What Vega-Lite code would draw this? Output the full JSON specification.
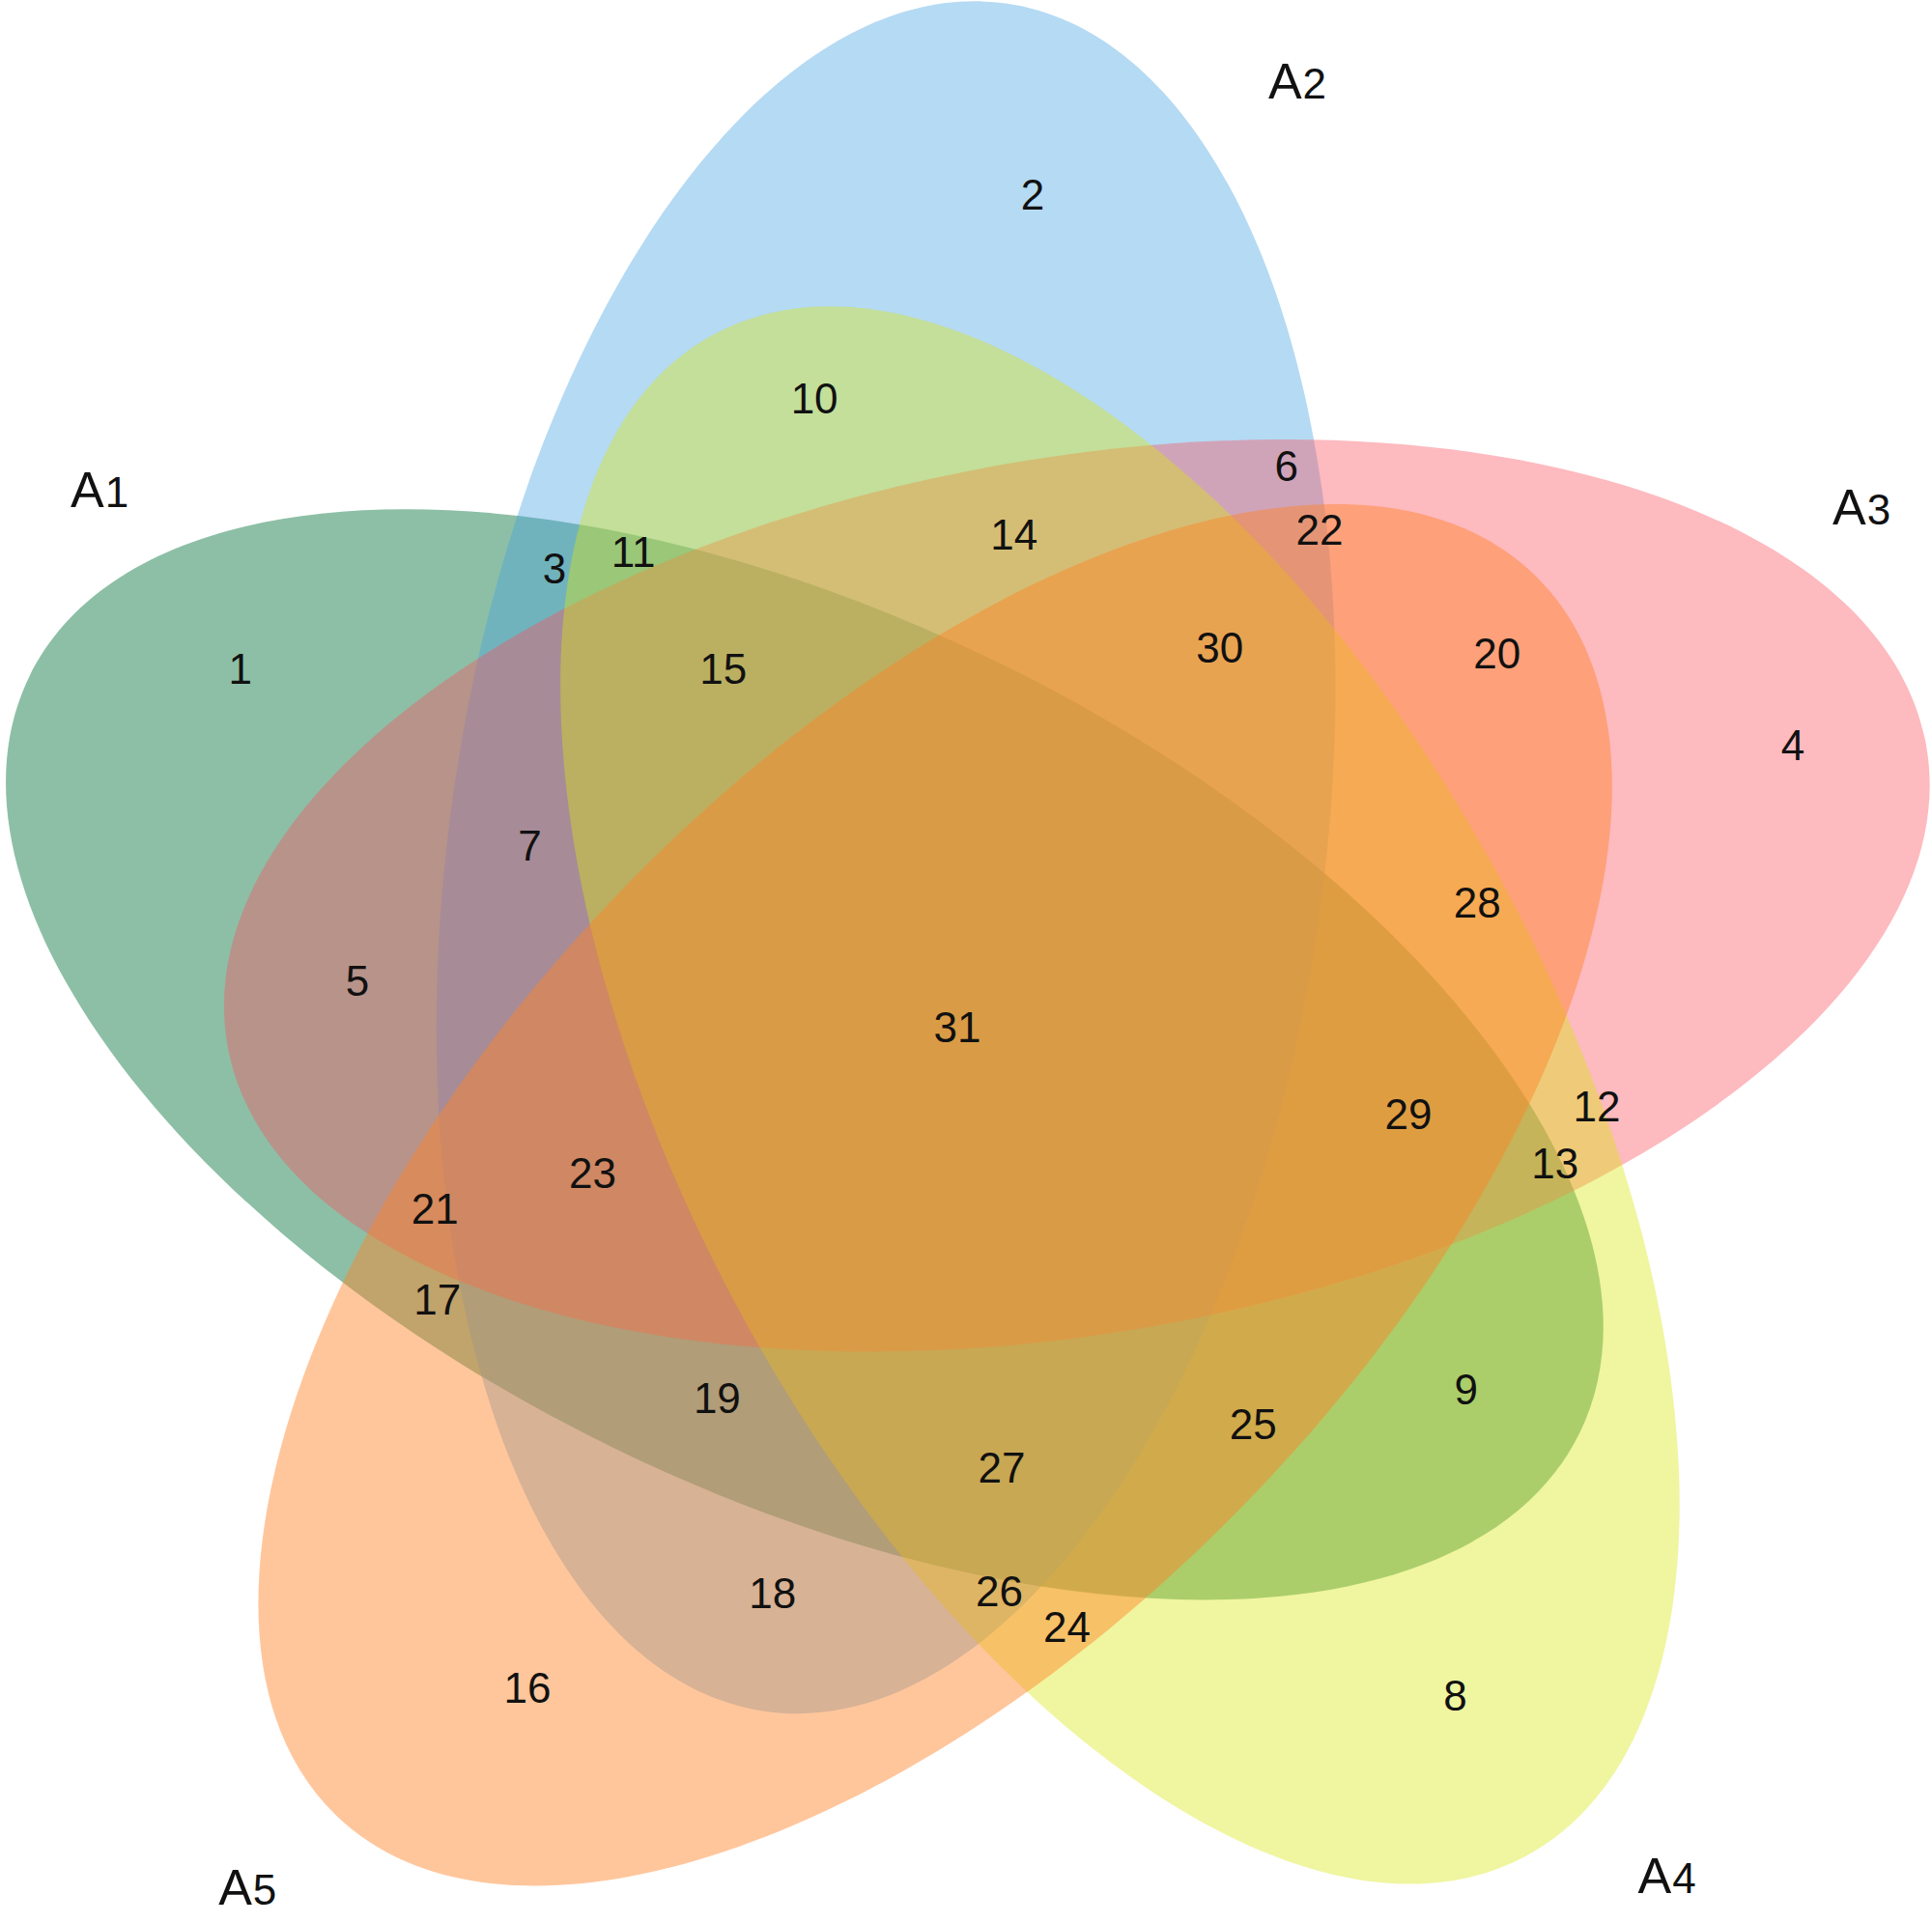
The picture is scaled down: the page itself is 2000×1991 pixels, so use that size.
{
  "$schema": "https://vega.github.io/schema/vega-lite/v6.json",
  "width": 2000,
  "height": 1991,
  "autosize": {"type": "fit", "contains": "padding"},
  "padding": 0,
  "background": "white",
  "config": {"view": {"stroke": null}},
  "datasets": {
    "sets": [
      {"set": "A1", "cx": 653, "cy": 856, "tilt": 26},
      {"set": "A2", "cx": 719, "cy": 696, "tilt": 278},
      {"set": "A3", "cx": 874, "cy": 727, "tilt": 350},
      {"set": "A4", "cx": 909, "cy": 889, "tilt": 62},
      {"set": "A5", "cx": 759, "cy": 970, "tilt": 134}
    ],
    "regions": [
      {"label": "1", "x": 195, "y": 545},
      {"label": "2", "x": 838, "y": 160},
      {"label": "3", "x": 450, "y": 463},
      {"label": "4", "x": 1455, "y": 607},
      {"label": "5", "x": 290, "y": 798},
      {"label": "6", "x": 1044, "y": 380},
      {"label": "7", "x": 430, "y": 688},
      {"label": "8", "x": 1181, "y": 1378},
      {"label": "9", "x": 1190, "y": 1130},
      {"label": "10", "x": 661, "y": 325},
      {"label": "11", "x": 514, "y": 450},
      {"label": "12", "x": 1296, "y": 900},
      {"label": "13", "x": 1262, "y": 946},
      {"label": "14", "x": 823, "y": 436},
      {"label": "15", "x": 587, "y": 545},
      {"label": "16", "x": 428, "y": 1372},
      {"label": "17", "x": 355, "y": 1057},
      {"label": "18", "x": 627, "y": 1295},
      {"label": "19", "x": 582, "y": 1137},
      {"label": "20", "x": 1215, "y": 532},
      {"label": "21", "x": 353, "y": 983},
      {"label": "22", "x": 1071, "y": 432},
      {"label": "23", "x": 481, "y": 954},
      {"label": "24", "x": 866, "y": 1323},
      {"label": "25", "x": 1017, "y": 1158},
      {"label": "26", "x": 811, "y": 1294},
      {"label": "27", "x": 813, "y": 1193},
      {"label": "28", "x": 1199, "y": 735},
      {"label": "29", "x": 1143, "y": 906},
      {"label": "30", "x": 990, "y": 528},
      {"label": "31", "x": 777, "y": 836}
    ],
    "names": [
      {"letter": "A", "num": "1", "x": 84.5, "y": 412},
      {"letter": "A", "num": "2", "x": 1056.5, "y": 80},
      {"letter": "A", "num": "3", "x": 1514.5, "y": 426},
      {"letter": "A", "num": "4", "x": 1356.5, "y": 1537},
      {"letter": "A", "num": "5", "x": 204.5, "y": 1546}
    ]
  },
  "layer": [
    {
      "data": {"name": "sets"},
      "mark": {
        "type": "point",
        "filled": true,
        "opacity": 1,
        "shape": "M1,0C1,0.2801,0.5523,0.5071,0,0.5071C-0.5523,0.5071,-1,0.2801,-1,0C-1,-0.2801,-0.5523,-0.5071,0,-0.5071C0.5523,-0.5071,1,-0.2801,1,0Z",
        "size": 3188800,
        "strokeWidth": 0
      },
      "encoding": {
        "x": {"field": "cx", "type": "quantitative", "scale": {"domain": [0, 1568], "nice": false, "zero": false}, "axis": null},
        "y": {"field": "cy", "type": "quantitative", "scale": {"domain": [0, 1561], "nice": false, "zero": false, "reverse": true}, "axis": null},
        "angle": {"field": "tilt", "type": "quantitative", "scale": {"domain": [0, 360], "range": [0, 360]}},
        "color": {
          "field": "set", "type": "nominal",
          "scale": {"domain": ["A1", "A2", "A3", "A4", "A5"], "range": ["rgba(27,127,77,0.5)", "rgba(70,163,225,0.4)", "rgba(250,83,95,0.4)", "rgba(218,230,18,0.4)", "rgba(255,130,40,0.46)"]},
          "legend": null
        }
      }
    },
    {
      "data": {"name": "regions"},
      "mark": {"type": "text", "font": "Liberation Sans", "fontSize": 44, "color": "#111111", "align": "center", "baseline": "middle"},
      "encoding": {
        "x": {"field": "x", "type": "quantitative"},
        "y": {"field": "y", "type": "quantitative"},
        "text": {"field": "label", "type": "nominal"}
      }
    },
    {
      "data": {"name": "names"},
      "mark": {"type": "text", "font": "Liberation Sans", "fontSize": 52, "color": "#111111", "align": "right", "baseline": "alphabetic"},
      "encoding": {
        "x": {"field": "x", "type": "quantitative"},
        "y": {"field": "y", "type": "quantitative"},
        "text": {"field": "letter", "type": "nominal"}
      }
    },
    {
      "data": {"name": "names"},
      "mark": {"type": "text", "font": "Liberation Sans", "fontSize": 44, "color": "#111111", "align": "left", "baseline": "alphabetic", "dx": 1},
      "encoding": {
        "x": {"field": "x", "type": "quantitative"},
        "y": {"field": "y", "type": "quantitative"},
        "text": {"field": "num", "type": "nominal"}
      }
    }
  ]
}
